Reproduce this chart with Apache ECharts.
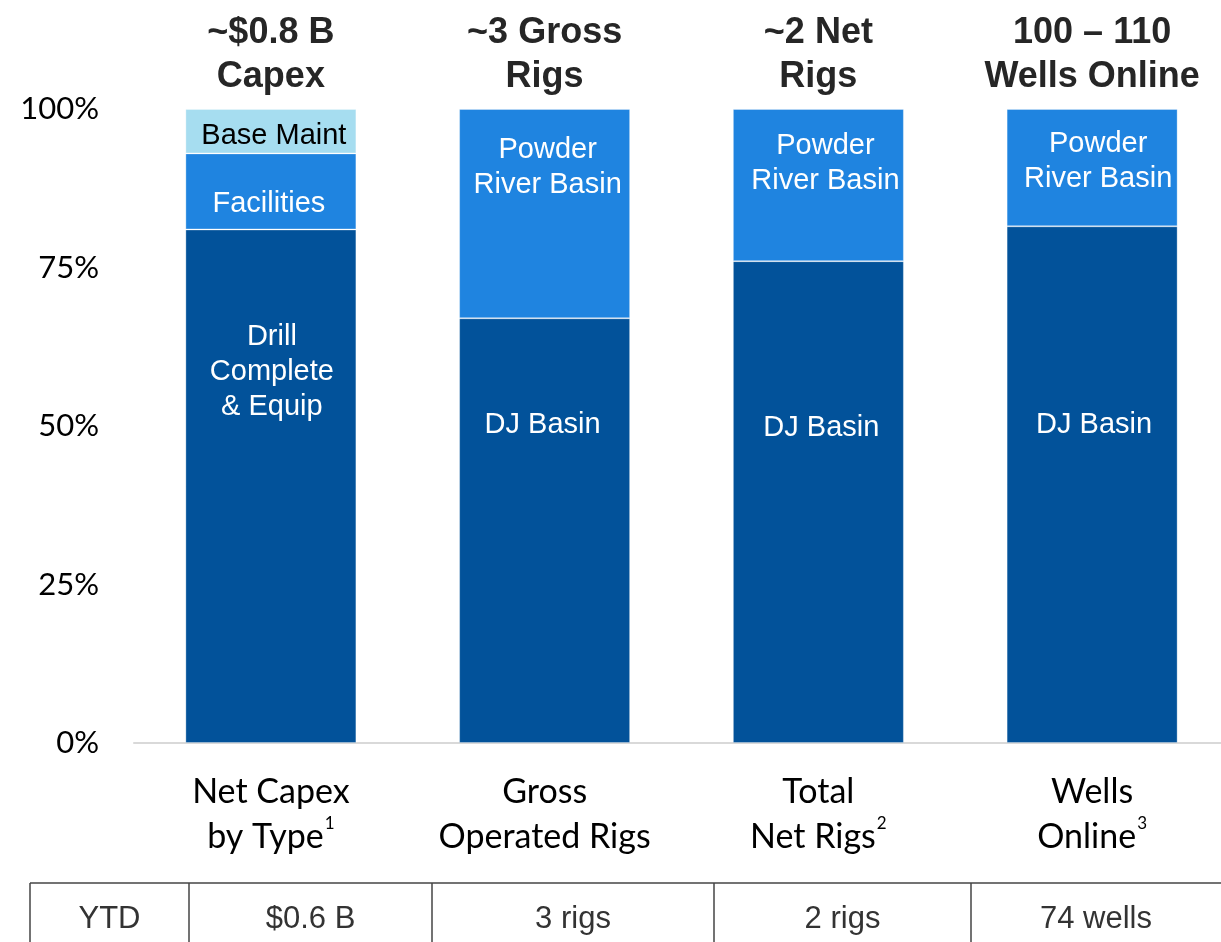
<!DOCTYPE html>
<html>
<head>
<meta charset="utf-8">
<script src="https://cdn.jsdelivr.net/npm/echarts@6/dist/echarts.min.js"></script>
<style>
  html, body { margin: 0; padding: 0; background: #fff; overflow: hidden; }
  #chart { width: 1229px; height: 942px; }
</style>
</head>
<body>
<div id="chart"></div>
<script>
// Category keys and their two-line labels (superscript note numbers kept separate)
const categories = ['Net Capex by Type', 'Gross Operated Rigs', 'Total Net Rigs', 'Wells Online'];
const categoryLines = [['Net Capex', 'by Type'], ['Gross', 'Operated Rigs'], ['Total', 'Net Rigs'], ['Wells', 'Online']];
const footnotes = ['1', '', '2', '3'];
const headlines = [['~$0.8 B', 'Capex'], ['~3 Gross', 'Rigs'], ['~2 Net', 'Rigs'], ['100 – 110', 'Wells Online']];

// Stack segments, in percent of each bar
const bottomValues = [81, 67, 76, 81.5];
const middleValues = [12, 33, 24, 18.5];
const topValues = [7, null, null, null];

const bottomLabels = ['Drill\nComplete\n& Equip', 'DJ Basin', 'DJ Basin', 'DJ Basin'];
const middleLabels = ['Facilities', 'Powder\nRiver Basin', 'Powder\nRiver Basin', 'Powder\nRiver Basin'];
const topLabels = ['Base Maint', '', '', ''];

// YTD row under the chart
const ytdHeader = 'YTD';
const ytdValues = ['$0.6 B', '3 rigs', '2 rigs', '74 wells'];

// Y ticks
const yTicks = [0, 25, 50, 75, 100];

// Layout helpers (label nudges and table column edges)
const bottomOffsets = [[1, -114], [-2, -106], [3, -74], [2, -60]];
const middleOffsets = [[-2, 13], [3, -46], [7, -22], [6, -6]];
const topOffsets = [[3, 5], [0, 0], [0, 0], [0, 0]];
const tableEdges = [30, 189, 432, 714, 971, 1229];
const cellCenters = [109.5, 310.5, 573, 842.5, 1096];
const tableTop = 883;

const DARK = '#02529A', MID = '#1F84E0', LIGHT = '#A6DDF0';
const calibriLike = 'Lato, "Open Sans", sans-serif';
const arialLike = '"Liberation Sans", Arial, sans-serif';

function buildItems(values, labels, offsets, textColor) {
  return values.map((v, i) => ({
    value: v,
    label: {
      show: v != null && labels[i] !== '',
      formatter: labels[i],
      position: 'inside',
      offset: offsets[i],
      color: textColor,
      fontFamily: arialLike,
      fontSize: 29,
      lineHeight: 35
    }
  }));
}

const segStyle = (c) => ({ color: c, borderColor: 'rgba(255,255,255,0.3)', borderWidth: 1 });

const chart = echarts.init(document.getElementById('chart'), null, { renderer: 'canvas' });

// YTD table: top rule, column dividers and centred cell text
const graphics = [];
graphics.push({
  type: 'line', silent: true,
  shape: { x1: tableEdges[0], y1: tableTop, x2: tableEdges[tableEdges.length - 1], y2: tableTop },
  style: { stroke: '#444', lineWidth: 1.5 }
});
for (let i = 0; i < tableEdges.length - 1; i++) {
  graphics.push({
    type: 'line', silent: true,
    shape: { x1: tableEdges[i], y1: tableTop, x2: tableEdges[i], y2: 942 },
    style: { stroke: '#444', lineWidth: 1.5 }
  });
}
const cellTexts = [ytdHeader].concat(ytdValues);
cellTexts.forEach((t, i) => {
  graphics.push({
    type: 'text', silent: true,
    x: cellCenters[i],
    y: 919,
    style: {
      text: t, fill: '#333', font: '31px ' + arialLike,
      textAlign: 'center', textVerticalAlign: 'middle'
    }
  });
});

chart.setOption({
  animation: false,
  backgroundColor: '#fff',
  grid: { left: 134, right: 0, top: 109, bottom: 199, containLabel: false },
  xAxis: [
    {
      type: 'category',
      data: categories,
      position: 'bottom',
      axisLine: { show: true, lineStyle: { color: '#d9d9d9', width: 2 } },
      axisTick: { show: false },
      axisLabel: {
        margin: 27,
        interval: 0,
        formatter: (v, idx) => {
          const l = categoryLines[idx];
          return '{m|' + l[0] + '}\n{m|' + l[1] + '}' + (footnotes[idx] ? '{s|' + footnotes[idx] + '}' : '');
        },
        rich: {
          m: { fontFamily: calibriLike, fontSize: 34, color: '#000', lineHeight: 45 },
          s: { fontFamily: calibriLike, fontSize: 17, color: '#000', verticalAlign: 'top', lineHeight: 45, padding: [0, 0, 18, 1] }
        }
      }
    },
    {
      type: 'category',
      data: categories,
      position: 'top',
      axisLine: { show: false },
      axisTick: { show: false },
      axisLabel: {
        margin: 10,
        interval: 0,
        formatter: (v, idx) => headlines[idx].join('\n'),
        fontFamily: arialLike,
        fontWeight: 'bold',
        fontSize: 36,
        lineHeight: 44,
        color: '#262626'
      }
    }
  ],
  yAxis: {
    type: 'value',
    min: yTicks[0],
    max: yTicks[yTicks.length - 1],
    interval: yTicks[1] - yTicks[0],
    axisLine: { show: false },
    axisTick: { show: false },
    splitLine: { show: false },
    axisLabel: {
      margin: 35,
      formatter: '{value}%',
      fontFamily: calibriLike,
      fontSize: 31,
      color: '#000'
    }
  },
  series: [
    {
      name: 'Drill / DJ Basin', type: 'bar', stack: 'total', barWidth: 171,
      itemStyle: segStyle(DARK),
      data: buildItems(bottomValues, bottomLabels, bottomOffsets, '#fff')
    },
    {
      name: 'Facilities / Powder River Basin', type: 'bar', stack: 'total', barWidth: 171,
      itemStyle: segStyle(MID),
      data: buildItems(middleValues, middleLabels, middleOffsets, '#fff')
    },
    {
      name: 'Base Maint', type: 'bar', stack: 'total', barWidth: 171,
      itemStyle: segStyle(LIGHT),
      data: buildItems(topValues, topLabels, topOffsets, '#000')
    }
  ],
  graphic: graphics
});
</script>
</body>
</html>
